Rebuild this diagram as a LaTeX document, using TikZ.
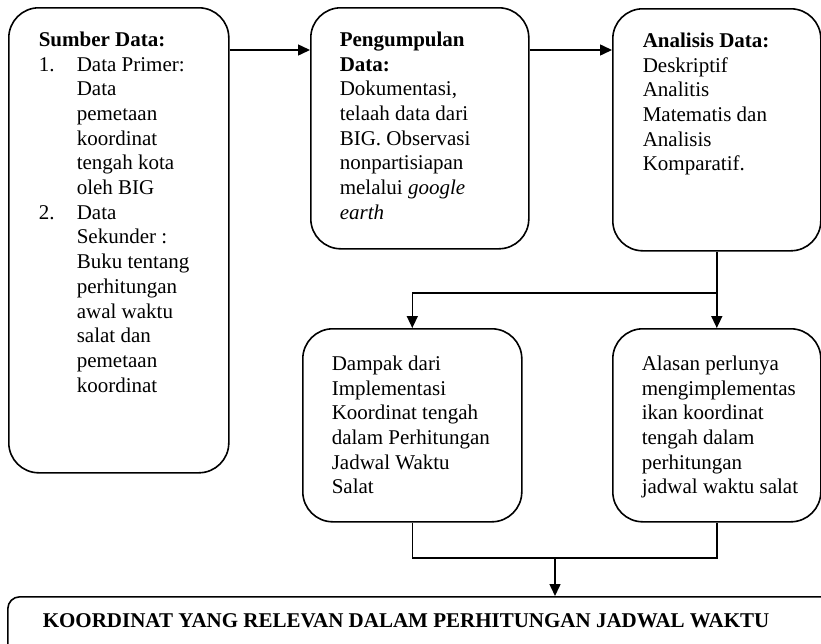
\documentclass[tikz,border=0pt]{standalone}
\usepackage{fontspec}
\setmainfont{Liberation Serif}
\usetikzlibrary{arrows.meta}
\hfuzz=30pt
\newcommand{\panel}[3]{\parbox[t][#2pt][t]{#1pt}{\raggedright #3}}
\newcommand{\num}[1]{\makebox[38pt][l]{#1}}
\newcommand{\ind}{\hspace*{38pt}}
\begin{document}
\begin{tikzpicture}[x=1pt,y=-1pt,
    box/.style={draw,line width=1.6pt,rounded corners=30pt,anchor=north west,
      inner xsep=29pt,inner ysep=24pt,font=\fontsize{21}{24.7}\selectfont},
    link/.style={line width=1.5pt},
    arr/.style={line width=1.5pt,-{Triangle[length=12pt,width=11pt]}}]
    \useasboundingbox (0,0) rectangle (821,643);
    \clip (0,0) rectangle (821,643);
    \node[box,inner xsep=30pt] (sumber) at (8,7) {\panel{160}{417}{\textbf{Sumber Data:}\\
        \num{1.}Data Primer:\\ \ind Data\\ \ind pemetaan\\ \ind koordinat\\
        \ind tengah kota\\ \ind oleh BIG\\
        \num{2.}Data\\ \ind Sekunder :\\ \ind Buku tentang\\ \ind perhitungan\\
        \ind awal waktu\\ \ind salat dan\\ \ind pemetaan\\ \ind koordinat}};
    \node[box] (kumpul) at (310,7) {\panel{160}{193}{\textbf{Pengumpulan}\\ \textbf{Data:}\\
        Dokumentasi,\\ telaah data dari\\ BIG. Observasi\\ nonpartisiapan\\
        melalui \textit{google}\\ \textit{earth}}};
    \node[box,inner xsep=30pt] (analisis) at (612,8) {\panel{148}{194}{\textbf{Analisis Data:}\\
        Deskriptif\\ Analitis\\ Matematis dan\\ Analisis\\ Komparatif.}};
    \node[box,inner ysep=27pt] (dampak) at (302,328) {\panel{161}{139}{Dampak dari\\ Implementasi\\
        Koordinat tengah\\ dalam Perhitungan\\ Jadwal Waktu\\ Salat}};
    \node[box,inner ysep=27pt] (alasan) at (612,328) {\panel{150}{139}{Alasan perlunya\\ mengimplementas\\
        ikan koordinat\\ tengah dalam\\ perhitungan\\ \mbox{jadwal waktu salat}}};
    \node[box,rounded corners=12pt,inner xsep=35pt,inner ysep=17pt] (hasil) at (7,596)
        {\panel{770}{36}{\textbf{KOORDINAT YANG RELEVAN DALAM PERHITUNGAN JADWAL WAKTU}}};
    \draw[arr] ([yshift=-43pt]sumber.north east) -- ([yshift=-43pt]kumpul.north west);
    \draw[arr] ([yshift=-43pt]kumpul.north east) -- ([yshift=-42pt]analisis.north west);
    \coordinate (fork) at (analisis.south |- 0,293);
    \draw[link] (analisis.south) -- (fork);
    \draw[arr] (fork) -| (dampak.north);
    \draw[arr] (fork) -- (alasan.north);
    \coordinate (join) at (555,558);
    \draw[link] (dampak.south) |- (join) -| (alasan.south);
    \draw[arr] (join) -- (join |- hasil.north);
\end{tikzpicture}
\end{document}
